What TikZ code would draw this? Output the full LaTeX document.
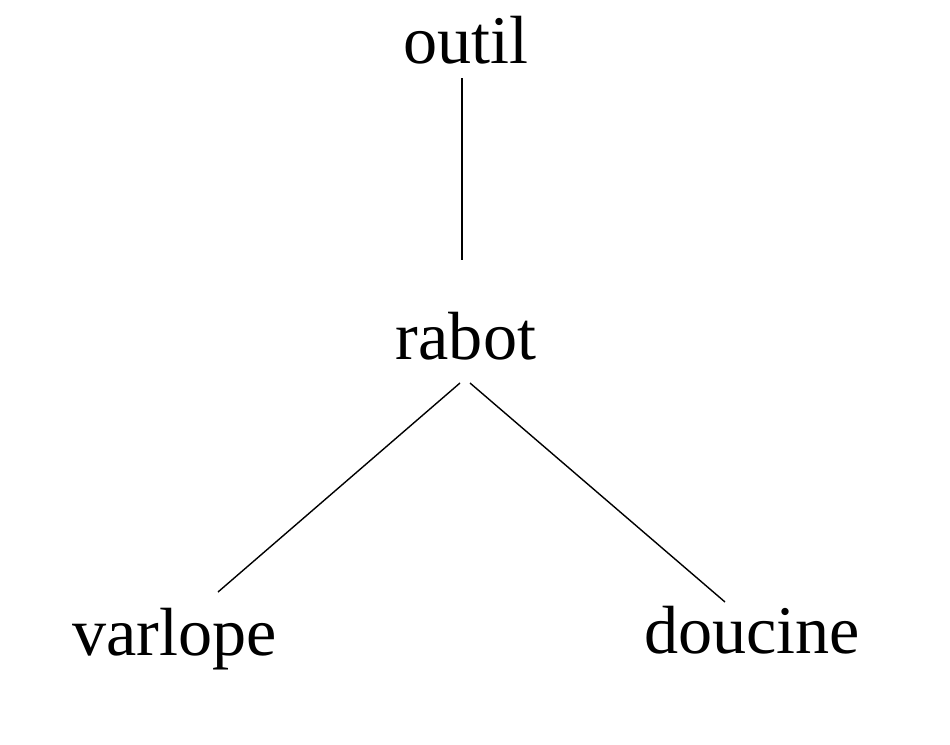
\documentclass[tikz,border=0pt]{standalone}
\usepackage{fontspec}
\setmainfont{Liberation Serif}
\usetikzlibrary{calc}

\begin{document}
\begin{tikzpicture}[x = 0.02cm, y = -0.02cm]
\tikzset{word/.style = {anchor = base, inner sep = 0pt, font = \fontsize{38.8}{46}\selectfont}}
\useasboundingbox (0,0) rectangle (950,744);
\node[word] (outil) at (466,63) {outil};
\node[word] (rabot) at (466,359) {rabot};
\node[word] (varlope) at (174.5,655) {varlope};
\node[word] (doucine) at (752,653) {doucine};
\draw[line width = 0.8pt] ($(outil.base)+(-4,15)$) -- ($(rabot.base)+(-4,-99)$);
\draw[line width = 0.8pt] ($(rabot.base)+(-6,24)$) -- ($(varlope.base)+(43.5,-63)$);
\draw[line width = 0.8pt] ($(rabot.base)+(4,24)$) -- ($(doucine.base)+(-27,-51)$);
\end{tikzpicture}
\end{document}
